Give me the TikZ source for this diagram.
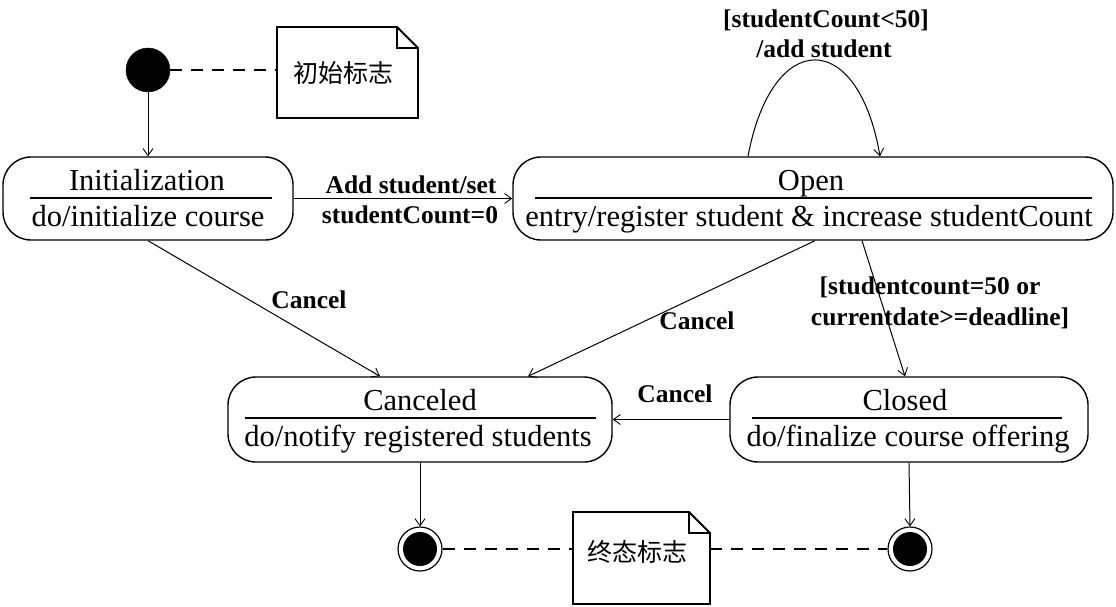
\documentclass[tikz,border=0pt]{standalone}
\usepackage{fontspec}
\setmainfont{Liberation Serif}
\newfontfamily\cjk{Noto Sans CJK SC}
\usetikzlibrary{arrows.meta,calc,positioning}
\tikzset{
  statebox/.style={draw, line width=1.4pt, rounded corners=28pt, inner sep=0pt},
  stitle/.style={font=\fontsize{30.5}{31}\selectfont, inner sep=0pt, anchor=base},
  trans/.style={line width=1pt, -{Straight Barb[length=7pt,width=10pt,line width=0.9pt]}},
  lbl/.style={font=\bfseries\fontsize{25.5}{27}\selectfont, inner sep=0pt},
  notebox/.style={line width=1.8pt},
  noteline/.style={line width=1.2pt, dash pattern=on 12pt off 9pt},
  notetext/.style={font=\cjk\fontsize{25}{26}\selectfont, inner sep=0pt},
}
\begin{document}
\begin{tikzpicture}[x=1pt,y=1pt]
\useasboundingbox (0,0) rectangle (1116,-606);
% states
\node[statebox, minimum width=290pt, minimum height=83pt] (init) at (148,-198.5) {};
\node[statebox, minimum width=600pt, minimum height=83pt] (open) at (813,-198.5) {};
\node[statebox, minimum width=384pt, minimum height=85pt] (can) at (420,-419.5) {};
\node[statebox, minimum width=358pt, minimum height=85pt] (clo) at (909,-419.5) {};
% state texts
\node[stitle] (initT) at (147,-190) {Initialization};
\node[stitle] (initB) at (148,-226) {do/initialize course};
\draw[line width=1.2pt] (30,-198) -- (272,-198);
\node[stitle] (openT) at (811,-190) {Open};
\node[stitle] (openB) at (809,-226) {entry/register student \& increase studentCount};
\draw[line width=1.2pt] (535,-198) -- (1092,-198);
\node[stitle] (canT) at (420,-410) {Canceled};
\node[stitle] (canB) at (418,-446) {do/notify registered students};
\draw[line width=1.2pt] (245,-418) -- (596,-418);
\node[stitle] (cloT) at (905,-410) {Closed};
\node[stitle] (cloB) at (908,-446) {do/finalize course offering};
\draw[line width=1.2pt] (752,-418) -- (1062,-418);
% initial and final states
\node[circle, fill=black, draw=black, minimum size=44pt, inner sep=0pt] (start) at (148,-70) {};
\node[circle, draw=black, line width=1.2pt, minimum size=44pt, inner sep=0pt] (end1) at (420,-549) {};
\node[circle, fill=black, minimum size=34pt, inner sep=0pt] at (end1) {};
\node[circle, draw=black, line width=1.2pt, minimum size=44pt, inner sep=0pt] (end2) at (910,-549) {};
\node[circle, fill=black, minimum size=34pt, inner sep=0pt] at (end2) {};
% notes
\draw[notebox] (277,-27) -- (397,-27) -- (418,-48) -- (418,-118) -- (277,-118) -- cycle;
\draw[notebox] (397,-27) -- (397,-48) -- (418,-48);
\coordinate (n1w) at (277,-70);
\node[notetext] (n1) at (343,-73) {初始标志};
\draw[notebox] (573,-512) -- (689,-512) -- (710,-533) -- (710,-604) -- (573,-604) -- cycle;
\draw[notebox] (689,-512) -- (689,-533) -- (710,-533);
\coordinate (n2w) at (573,-549);
\coordinate (n2e) at (710,-549);
\node[notetext] (n2) at (637,-552) {终态标志};
\draw[noteline] (start.east) -- (n1w);
\draw[noteline] (end1.east) -- (n2w);
\draw[noteline] (n2e) -- (end2.west);
% transitions
\draw[trans] (start.south) -- (init.north);
\draw[trans] (init.east) -- (open.west);
\node[lbl] (l1) at (411,-185) {Add student/set};
\node[lbl] (l2) at (410,-215) {studentCount=0};
\draw[trans] ($(open.north)+(-65,0)$) .. controls (772,-28) and (858,-28) .. ($(open.north)+(67,0)$);
\node[lbl] (l3) at (826,-20) {[studentCount<50]};
\node[lbl] (l4) at (824,-49) {/add student};
\draw[trans] (init.south) -- ($(can.north)+(-40,0)$);
\node[lbl] (l5) at (309,-300) {Cancel};
\draw[trans] ($(open.south)+(2,0)$) -- ($(can.north)+(108,0)$);
\node[lbl] (l6) at (697,-321) {Cancel};
\draw[trans] ($(open.south)+(49,0)$) -- ($(clo.north)+(-4,0)$);
\node[lbl] (l7) at (930,-287) {[studentcount=50 or};
\node[lbl] (l8) at (940,-318) {currentdate>=deadline]};
\draw[trans] (clo.west) -- (can.east);
\node[lbl] (l9) at (675,-394) {Cancel};
\draw[trans] (can.south) -- (end1.north);
\draw[trans] (clo.south) -- (end2.north);
\end{tikzpicture}
\end{document}
